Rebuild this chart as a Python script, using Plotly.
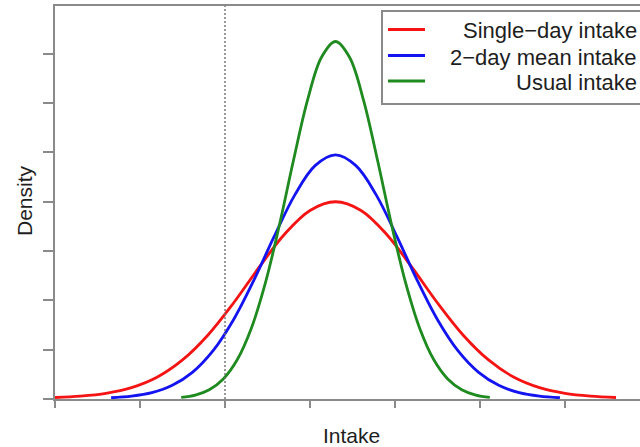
import plotly.graph_objects as go

# ---- data (x in tick units, y in tick units) ----
single_x = [0.0, 0.3, 0.6, 0.9, 1.2, 1.5, 1.8, 2.1, 2.4, 2.7, 3.0, 3.3,
            3.6, 3.9, 4.2, 4.5, 4.8, 5.1, 5.4, 5.7, 6.0, 6.3, 6.6]
single_y = [0.030, 0.058, 0.115, 0.230, 0.441, 0.792, 1.299, 1.947, 2.668, 3.341, 3.824, 4.000,
            3.824, 3.341, 2.668, 1.947, 1.299, 0.792, 0.441, 0.230, 0.115, 0.058, 0.030]

twoday_x = [0.66, 0.90, 1.14, 1.38, 1.62, 1.86, 2.10, 2.34, 2.58, 2.82, 3.06, 3.30,
            3.54, 3.78, 4.02, 4.26, 4.50, 4.74, 4.98, 5.22, 5.46, 5.70, 5.94]
twoday_y = [0.025, 0.058, 0.129, 0.278, 0.546, 0.980, 1.607, 2.410, 3.302, 4.135, 4.732, 4.950,
            4.732, 4.135, 3.302, 2.410, 1.607, 0.980, 0.546, 0.278, 0.129, 0.058, 0.025]

usual_x = [1.485, 1.650, 1.815, 1.980, 2.145, 2.310, 2.475, 2.640, 2.805, 2.970, 3.135, 3.300,
           3.465, 3.630, 3.795, 3.960, 4.125, 4.290, 4.455, 4.620, 4.785, 4.950, 5.115]
usual_y = [0.031, 0.080, 0.189, 0.407, 0.800, 1.435, 2.354, 3.529, 4.836, 6.056, 6.931, 7.250,
           6.931, 6.056, 4.836, 3.529, 2.354, 1.435, 0.800, 0.407, 0.189, 0.080, 0.031]

series_names = ["Single\u2212day intake", "2\u2212day mean intake", "Usual intake"]
series_colors = ["#f41414", "#1414f0", "#1f8a1f"]

x_ticks = [0, 1, 2, 3, 4, 5, 6]
y_ticks = [0, 1, 2, 3, 4, 5, 6, 7]
cutoff_x = 2.0
x_range = [0, 6.882]
y_range = [0, 7.97]

FONT = "Liberation Sans, Arial, Helvetica, sans-serif"
AXIS_GRAY = "#8a8a8a"
TEXT = "#1e1e1e"

fig = go.Figure()
for xs, ys, name, col in zip([single_x, twoday_x, usual_x],
                             [single_y, twoday_y, usual_y],
                             series_names, series_colors):
    fig.add_trace(go.Scatter(x=xs, y=ys, mode="lines", name=name,
                             line=dict(color=col, width=2.8, shape="spline", smoothing=1.0),
                             showlegend=False, hoverinfo="skip"))

fig.add_vline(x=cutoff_x, line=dict(color="#6e6e6e", width=1.4, dash="2px,2px"))

fig.update_layout(
    width=640, height=447,
    margin=dict(l=55, r=0, t=6, b=48),
    paper_bgcolor="white", plot_bgcolor="white",
    font=dict(family=FONT, size=21, color=TEXT),
    showlegend=False,
)
fig.update_xaxes(range=x_range, tickvals=x_ticks, showticklabels=False,
                 ticks="outside", ticklen=7, tickwidth=1.5, tickcolor=AXIS_GRAY,
                 showline=True, linecolor=AXIS_GRAY, linewidth=2, mirror=True,
                 showgrid=False, zeroline=False)
fig.update_yaxes(range=y_range, tickvals=y_ticks, showticklabels=False,
                 ticks="outside", ticklen=10, tickwidth=1.5, tickcolor=AXIS_GRAY,
                 showline=True, linecolor=AXIS_GRAY, linewidth=2, mirror=False,
                 showgrid=False, zeroline=False)

# pixel -> paper helpers for the fixed layout
def px_x(p):
    return (p - 55) / 585.0

def px_y(p):
    return (399 - p) / 393.0

# axis titles
fig.add_annotation(text="Intake", xref="paper", yref="paper", x=px_x(351.5), y=px_y(436),
                   showarrow=False, xanchor="center", yanchor="middle",
                   font=dict(family=FONT, size=21, color=TEXT))
fig.add_annotation(text="Density", xref="paper", yref="paper", x=px_x(24), y=px_y(201),
                   showarrow=False, xanchor="center", yanchor="middle", textangle=-90,
                   font=dict(family=FONT, size=21, color=TEXT))

# custom legend (box clipped at the right edge, right-aligned labels)
fig.add_shape(type="rect", xref="paper", yref="paper",
              x0=px_x(382), x1=px_x(660), y0=px_y(104), y1=px_y(11),
              line=dict(color=AXIS_GRAY, width=2), fillcolor="white", layer="above")
row_y = [29.5, 55.5, 81]
for ry, name, col in zip(row_y, series_names, series_colors):
    fig.add_shape(type="line", xref="paper", yref="paper",
                  x0=px_x(388), x1=px_x(425), y0=px_y(ry), y1=px_y(ry),
                  line=dict(color=col, width=2.8), layer="above")
    fig.add_annotation(text=name, xref="paper", yref="paper", x=px_x(639), y=px_y(ry + 1.5),
                       showarrow=False, xanchor="right", yanchor="middle",
                       font=dict(family=FONT, size=22, color=TEXT))

fig.write_html("out.html", config={"displayModeBar": False},
               post_script="document.body.style.margin='0';document.body.style.overflow='hidden';")
